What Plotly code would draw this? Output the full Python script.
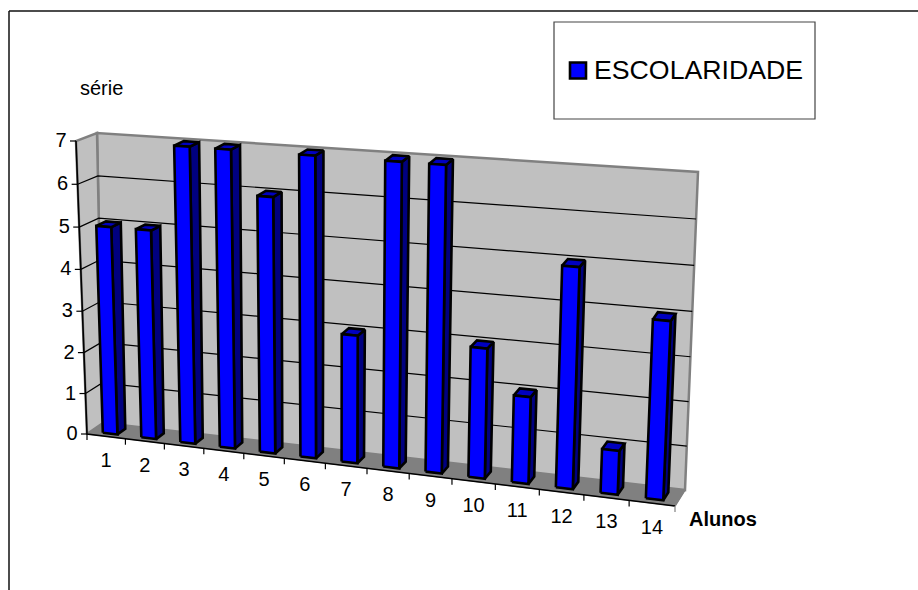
import plotly.graph_objects as go

# Chart data
alunos = [str(i) for i in range(1, 15)]
escolaridade = [5, 5, 7, 7, 6, 7, 3, 7, 7, 3, 2, 5, 1, 4]
serie_ticks = [0, 1, 2, 3, 4, 5, 6, 7]

# Pixel corners of the pseudo-3D box: (category end, value end, depth end)
CORNERS = {
    (0, 0, 0): (87, 434), (1, 0, 0): (675, 506),
    (0, 0, 1): (103, 423), (1, 0, 1): (685, 490),
    (0, 1, 0): (76, 141), (1, 1, 0): (689, 186),
    (0, 1, 1): (97, 133), (1, 1, 1): (698, 172),
}
N_CAT = len(alunos)
V_MAX = 7
BAR_U = (0.31, 0.69)
BAR_D = (0.25, 0.75)
# Foreshortening along the category and value directions
PERSP_U = 1.10
PERSP_V = 1.04

FRONT, SIDE, TOP = "#0000FF", "#000080", "#0000C0"
WALL, FLOOR, EDGE = "#C0C0C0", "#808080", "#808080"
FONT = "Liberation Sans, Arial, sans-serif"


def foreshorten(t, k):
    return t / (t + k * (1 - t))


def project(u, v, d):
    """Map category position, value and depth (0..1) onto the page."""
    a, b, c = foreshorten(u / N_CAT, PERSP_U), foreshorten(v / V_MAX, PERSP_V), d
    x = y = 0.0
    for (i, j, k), (px, py) in CORNERS.items():
        w = (a if i else 1 - a) * (b if j else 1 - b) * (c if k else 1 - c)
        x += w * px
        y += w * py
    return x, y


def polygon(points, fill, line="black", width=2.6):
    pts = [project(*p) for p in points] + [project(*points[0])]
    return go.Scatter(
        x=[p[0] for p in pts], y=[p[1] for p in pts], mode="lines",
        fill="toself", fillcolor=fill, hoverinfo="skip",
        line=dict(color=line, width=width, simplify=False),
    )


def path(points, color="black", width=1.2):
    pts = [project(*p) for p in points]
    return go.Scatter(
        x=[p[0] for p in pts], y=[p[1] for p in pts], mode="lines",
        hoverinfo="skip", line=dict(color=color, width=width, simplify=False),
    )


fig = go.Figure()

# Walls and floor
fig.add_trace(polygon([(0, 0, 1), (N_CAT, 0, 1), (N_CAT, V_MAX, 1), (0, V_MAX, 1)], WALL, EDGE, 2.5))
fig.add_trace(polygon([(0, 0, 0), (0, 0, 1), (0, V_MAX, 1), (0, V_MAX, 0)], WALL, EDGE, 2.5))
fig.add_trace(polygon([(0, 0, 0), (N_CAT, 0, 0), (N_CAT, 0, 1), (0, 0, 1)], FLOOR, FLOOR, 1))

# Gridlines run along the left wall and across the back wall
for v in serie_ticks[1:-1]:
    fig.add_trace(path([(0, v, 0), (0, v, 1), (N_CAT, v, 1)]))
fig.add_trace(path([(N_CAT, 0, 0), (N_CAT, 0, 1)], EDGE, 1.5))

# Axis lines and tick marks
fig.add_trace(path([(0, V_MAX, 0), (0, 0, 0), (N_CAT, 0, 0)], "black", 1.6))
for v in serie_ticks:
    x0, y0 = project(0, v, 0)
    fig.add_trace(go.Scatter(x=[x0 - 6, x0], y=[y0, y0], mode="lines", hoverinfo="skip",
                             line=dict(color="black", width=1.2)))
for i in range(N_CAT + 1):
    x0, y0 = project(i, 0, 0)
    fig.add_trace(go.Scatter(x=[x0, x0], y=[y0, y0 + 6], mode="lines", hoverinfo="skip",
                             line=dict(color=EDGE if i == N_CAT else "black", width=1.2)))

# Bars, each built from its value: side, top, then front face
for i, val in enumerate(escolaridade):
    u0, u1 = i + BAR_U[0], i + BAR_U[1]
    d0, d1 = BAR_D
    fig.add_trace(polygon([(u1, 0, d0), (u1, 0, d1), (u1, val, d1), (u1, val, d0)], SIDE))
    fig.add_trace(polygon([(u0, val, d0), (u1, val, d0), (u1, val, d1), (u0, val, d1)], TOP))
    fig.add_trace(polygon([(u0, 0, d0), (u1, 0, d0), (u1, val, d0), (u0, val, d0)], FRONT))

# Value axis labels
lx, ly = [], []
for v in serie_ticks:
    x0, y0 = project(0, v, 0)
    lx.append(x0 - 15)
    ly.append(y0 + 1)
fig.add_trace(go.Scatter(x=lx, y=ly, mode="text", text=[str(v) for v in serie_ticks],
                         textposition="middle center", hoverinfo="skip",
                         textfont=dict(family=FONT, size=20, color="black")))

# Category labels
cx, cy = [], []
for i in range(N_CAT):
    x0, y0 = project(i + 0.5, 0, 0)
    cx.append(x0)
    cy.append(y0 + 25.5)
fig.add_trace(go.Scatter(x=cx, y=cy, mode="text", text=alunos,
                         textposition="middle center", hoverinfo="skip",
                         textfont=dict(family=FONT, size=20, color="black")))

# Legend key
fig.add_trace(go.Scatter(x=[578], y=[70.5], mode="markers", hoverinfo="skip",
                         marker=dict(symbol="square", size=16, color=FRONT,
                                     line=dict(color="black", width=2.6))))

annotations = [
    dict(x=101, y=88, text="série", font=dict(family=FONT, size=20, color="black")),
    dict(x=723, y=519, text="<b>Alunos</b>", font=dict(family=FONT, size=20, color="black")),
    dict(x=698, y=70, text="ESCOLARIDADE", font=dict(family=FONT, size=26.7, color="black")),
]

shapes = [
    dict(type="rect", x0=554, x1=815, y0=22, y1=119, line=dict(color="#444444", width=1.2)),
    dict(type="line", x0=9, x1=918, y0=11, y1=11, line=dict(color="#111111", width=1.5)),
    dict(type="line", x0=9, x1=9, y0=11, y1=590, line=dict(color="#111111", width=1.5)),
]

fig.update_layout(
    width=918, height=590, margin=dict(l=0, r=0, t=0, b=0),
    paper_bgcolor="white", plot_bgcolor="white", showlegend=False,
    xaxis=dict(range=[0, 918], visible=False, fixedrange=True),
    yaxis=dict(range=[590, 0], visible=False, fixedrange=True),
    annotations=[dict(a, xref="x", yref="y", showarrow=False, xanchor="center", yanchor="middle") for a in annotations],
    shapes=[dict(s, xref="x", yref="y", layer="below") for s in shapes],
)

fig.write_html("out.html", config=dict(displayModeBar=False))
